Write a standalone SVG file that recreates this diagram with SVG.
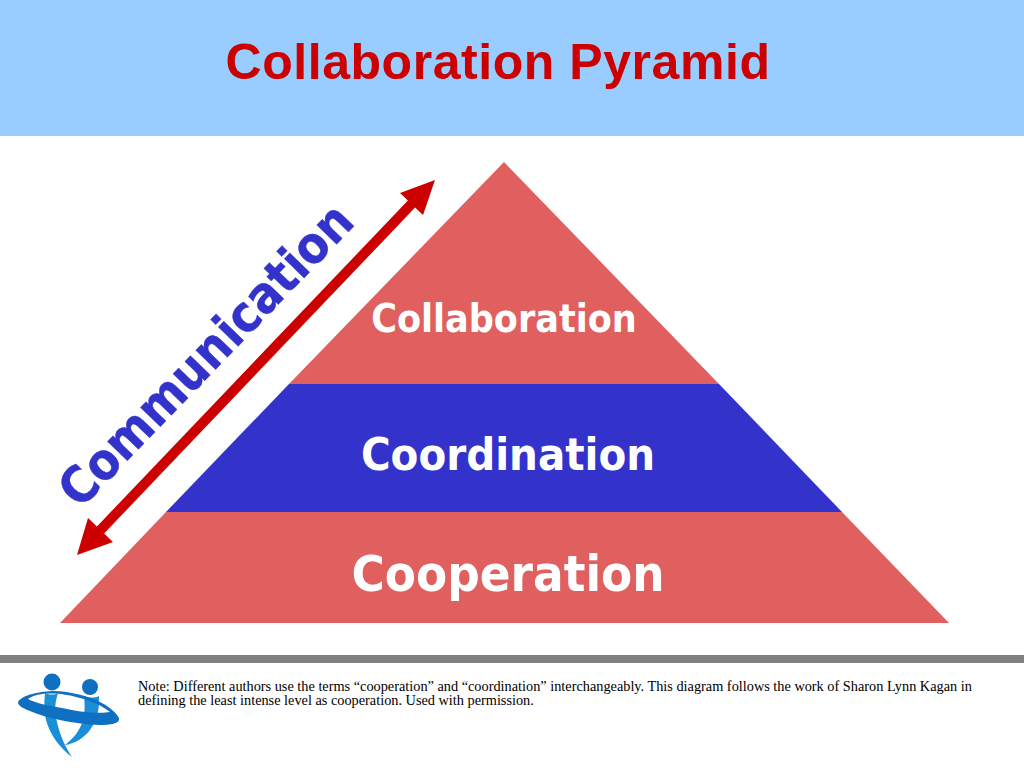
<svg xmlns="http://www.w3.org/2000/svg" width="1024" height="768" viewBox="0 0 1024 768">
<style>
.lvl{font-family:"DejaVu Sans",sans-serif;font-stretch:condensed;font-weight:700;fill:#fff;text-anchor:middle}
.note{font-family:"Liberation Serif",serif;font-size:14.3px;fill:#000}
</style>
<rect width="1024" height="768" fill="#fff"/>
<rect id="header" width="1024" height="136" fill="#99ccff"/>
<text x="498" y="79" text-anchor="middle" font-family="Liberation Sans, sans-serif" font-weight="700" font-size="50" letter-spacing="0.55" fill="#cc0000">Collaboration Pyramid</text>
<g id="collaboration"><polygon points="504,162 719,384 289,384" fill="#e06060"/><text class="lvl" x="504" y="332" font-size="39">Collaboration</text></g>
<g id="coordination"><polygon points="289,384 719,384 842,512 166,512" fill="#3333cc"/><text class="lvl" x="508" y="470" font-size="45">Coordination</text></g>
<g id="cooperation"><polygon points="166,512 842,512 949,623 60,623" fill="#e06060"/><text class="lvl" x="508" y="591" font-size="50.5">Cooperation</text></g>
<g id="connectors"><polygon points="435,180 423,215 415.1,207.5 104.1,533.5 113,542 77,555 88,518 96.9,526.5 407.9,200.5 400,193" fill="#cc0000"/></g>
<text id="communication" transform="translate(80,510) rotate(-46)" font-family="DejaVu Sans, sans-serif" font-stretch="condensed" font-weight="700" font-size="50.5" fill="#3333cc" stroke="#3333cc" stroke-width="0.4">Communication</text>
<rect id="rule" y="655" width="1024" height="8" fill="#808080"/>
<g id="logo">
<circle cx="52" cy="682" r="8.5" fill="#0f6fc0"/><circle cx="90" cy="687" r="8" fill="#0f6fc0"/>
<path d="M45 693C50 695 54 695 58 693C55 702 54 712 57 722C60 736 66 748 72 757C60 748 50 735 46 720C44 712 44 703 45 693Z" fill="#1a8fd8"/>
<path d="M84 696C88 698 95 698 99 696C100 710 96 722 90 730C84 738 74 744 65 745C74 738 80 730 83 720C85 712 85 704 84 696Z" fill="#1a8fd8"/>
<path d="M18 702C22 695 40 691 55 691C80 692 110 702 119 718C120 724 110 725 100 725C75 724 45 718 30 711C23 708 18 706 18 702ZM28 699C35 703 50 706 67 709C80 712 100 714 110 712C98 702 75 695 55 693.5C45 693 34 694 28 699Z" fill="#0f6fc0" fill-rule="evenodd"/>
</g>
<text class="note" x="138" y="691">Note: Different authors use the terms “cooperation” and “coordination” interchangeably. This diagram follows the work of Sharon Lynn Kagan in</text>
<text class="note" x="138" y="705">defining the least intense level as cooperation. Used with permission.</text>
</svg>
